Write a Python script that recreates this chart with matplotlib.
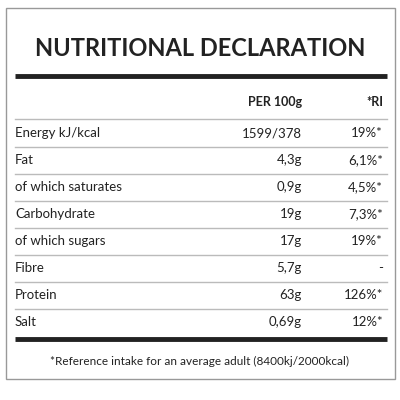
import matplotlib
matplotlib.use("Agg")
import matplotlib.pyplot as plt
from matplotlib.patches import Rectangle

title = "NUTRITIONAL DECLARATION"
headers = ["PER 100g", "*RI"]
nutrients = ["Energy kJ/kcal", "Fat", "of which saturates", "Carbohydrate",
             "of which sugars", "Fibre", "Protein", "Salt"]
per100 = ["1599/378", "4,3g", "0,9g", "19g", "17g", "5,7g", "63g", "0,69g"]
ri = ["19%*", "6,1%*", "4,5%*", "7,3%*", "19%*", "-", "126%*", "12%*"]
footnote = "*Reference intake for an average adult (8400kj/2000kcal)"

plt.rcParams['font.family'] = ['Lato', 'DejaVu Sans']
fig = plt.figure(figsize=(4, 4), dpi=100)
ax = fig.add_axes([0, 0, 1, 1])
ax.set_xlim(0, 400); ax.set_ylim(400, 0); ax.axis('off')

ax.add_patch(Rectangle((6, 8), 389, 371, fill=False, ec='#999999', lw=1))
ax.text(200, 48, title, ha='center', va='center', fontsize=17, fontweight='bold', color='#222222')
ax.plot([15, 387], [76, 76], color='#222222', lw=3.5, solid_capstyle='butt')
ax.text(302, 102, headers[0], ha='right', va='center', fontsize=9, fontweight='bold', color='#222222')
ax.text(383, 102, headers[1], ha='right', va='center', fontsize=9, fontweight='bold', color='#222222')
ax.plot([15, 387], [119, 119], color='#bbbbbb', lw=1)
for i, (n, p, r) in enumerate(zip(nutrients, per100, ri)):
    y = 133 + 27 * i
    ax.text(15, y, n, ha='left', va='center', fontsize=9.5, color='#222222')
    ax.text(302, y, p, ha='right', va='center', fontsize=9.5, color='#222222')
    ax.text(383, y, r, ha='right', va='center', fontsize=9.5, color='#222222')
    if i < len(nutrients) - 1:
        ax.plot([15, 387], [y + 14, y + 14], color='#bbbbbb', lw=1)
ax.plot([15, 387], [339, 339], color='#222222', lw=3.5, solid_capstyle='butt')
ax.text(200, 361, footnote, ha='center', va='center', fontsize=8.5, color='#222222')
fig.savefig("out.png", dpi=100)
